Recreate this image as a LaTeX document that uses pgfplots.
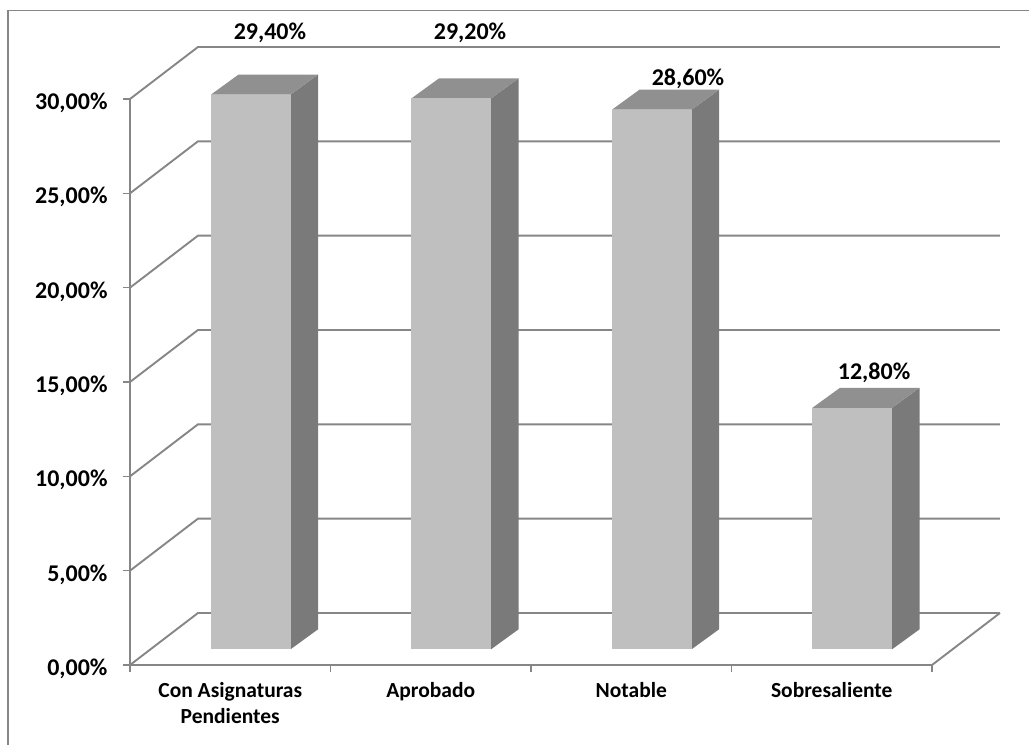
\documentclass[border=0pt]{standalone}
\usepackage{pgfplots}
\pgfplotsset{compat=1.18}
\usepackage{fontspec}
\setmainfont{Carlito}
\definecolor{wallgray}{HTML}{868686}
\definecolor{barfront}{HTML}{BFBFBF}
\definecolor{barside}{HTML}{7A7A7A}
\definecolor{bartop}{HTML}{909090}
\newcommand{\chartfont}{\fontsize{24bp}{25.5bp}\selectfont\bfseries}
\newcommand{\catfont}{\fontsize{21.5bp}{25.5bp}\selectfont\bfseries}

% Depth offset of the back wall, in data units
\newcommand{\wallx}{0.339}
\newcommand{\wally}{2.756}

% One gridline: diagonal on the left wall, then along the back wall
\newcommand{\wallline}[1]{%
  \pgfmathsetmacro{\ya}{#1+\wally}%
  \pgfmathsetmacro{\xa}{4+\wallx}%
  \edef\tmp{\noexpand\addplot[draw=wallgray, line width=1.9bp]
    coordinates {(0,#1)(\wallx,\ya)(\xa,\ya)};}\tmp}

% A solid bar from its centre and its value: side, top and front faces
\newcommand{\solidbar}[2]{%
  \pgfmathsetmacro{\xl}{#1-0.1985+0.1022}%
  \pgfmathsetmacro{\xr}{#1+0.1985+0.1022}%
  \pgfmathsetmacro{\yb}{0.832}%
  \pgfmathsetmacro{\yt}{#2+0.832}%
  \pgfmathsetmacro{\xL}{\xl+0.1372}%
  \pgfmathsetmacro{\xR}{\xr+0.1372}%
  \pgfmathsetmacro{\yB}{\yb+1.06}%
  \pgfmathsetmacro{\yT}{\yt+1.06}%
  \edef\tmp{\noexpand\addplot[fill=barside, draw=none]
    coordinates {(\xr,\yb)(\xR,\yB)(\xR,\yT)(\xr,\yt)} --cycle;
    \noexpand\addplot[fill=bartop, draw=none]
    coordinates {(\xl,\yt)(\xr,\yt)(\xR,\yT)(\xL,\yT)} --cycle;
    \noexpand\addplot[fill=barfront, draw=none]
    coordinates {(\xl,\yb)(\xr,\yb)(\xr,\yt)(\xl,\yt)} --cycle;}\tmp}

\begin{document}
\begin{tikzpicture}[x=1bp, y=1bp]
\path[use as bounding box] (-130,-80) rectangle (899,665);
\draw[wallgray, line width=1.2bp] (-122,-80) -- (-122,654.5) -- (899,654.5);
\begin{axis}[
  at={(0,0)}, anchor=origin,
  scale only axis,
  width=802bp, height=566bp,
  xmin=0, xmax=4, ymin=0, ymax=30,
  clip=false,
  axis x line=bottom, axis y line=left,
  axis line style={-, draw=wallgray, line width=1.9bp},
  tick style={draw=wallgray, line width=1.2bp},
  tick align=outside,
  major tick length=7bp,
  xtick={0,1,2,3,4},
  xticklabels={},
  extra x ticks={0.5,1.5,2.5,3.5},
  extra x tick labels={{Con Asignaturas\\Pendientes},{Aprobado},{Notable},{Sobresaliente}},
  extra x tick style={major tick length=0pt, tick style={draw=none},
    xticklabel style={anchor=north, align=center, font=\catfont, yshift=-14bp, text=black}},
  ytick={0,5,10,15,20,25,30},
  yticklabels={{0,00\%},{5,00\%},{10,00\%},{15,00\%},{20,00\%},{25,00\%},{30,00\%}},
  yticklabel style={anchor=east, font=\chartfont, xshift=-12bp, yshift=-4bp, text=black},
]
\wallline{0}
\wallline{5}
\wallline{10}
\wallline{15}
\wallline{20}
\wallline{25}
\wallline{30}
\addplot[draw=wallgray, line width=1.9bp] coordinates {(4,0)(4.339,2.756)};

\solidbar{0.5}{29.4}
\solidbar{1.5}{29.2}
\solidbar{2.5}{28.6}
\solidbar{3.5}{12.8}

\node[font=\chartfont] at (axis cs:0.698,33.5) {29,40\%};
\node[font=\chartfont] at (axis cs:1.696,33.5) {29,20\%};
\node[font=\chartfont] at (axis cs:2.783,31.05) {28,60\%};
\node[font=\chartfont] at (axis cs:3.711,15.48) {12,80\%};
\end{axis}
\end{tikzpicture}
\end{document}
